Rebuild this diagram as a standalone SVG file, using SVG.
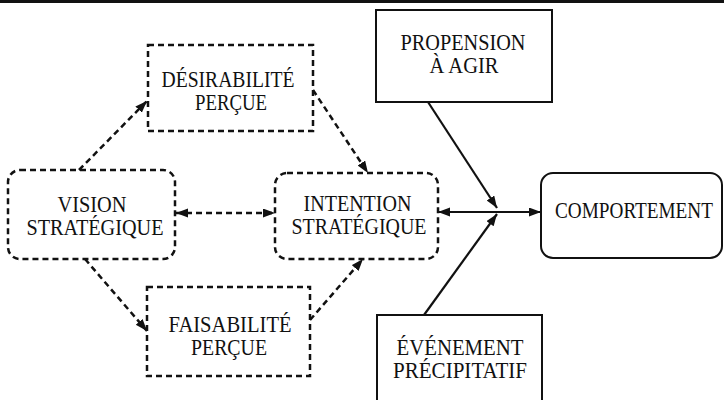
<svg xmlns="http://www.w3.org/2000/svg" width="724" height="400" viewBox="0 0 724 400">
<defs>
<style>
.dash{fill:none;stroke:#111;stroke-width:2.5;stroke-dasharray:6 4}
.solid{fill:none;stroke:#111;stroke-width:2}
.t{font-family:"Liberation Serif","Times New Roman",serif;font-size:23px;fill:#111;text-anchor:middle}
.cd{fill:none;stroke:#111;stroke-width:2.5;stroke-dasharray:6 4}
.cs{fill:none;stroke:#111;stroke-width:2.2}
</style>
<marker id="ah" markerUnits="userSpaceOnUse" markerWidth="14" markerHeight="10" refX="12" refY="4.5" orient="auto-start-reverse">
<path d="M0,0 L12,4.5 L0,9 z" fill="#111"/>
</marker>
</defs>
<rect width="724" height="400" fill="#fff"/>
<rect x="0" y="0" width="724" height="3" fill="#111"/>
<g id="connectors">
<line class="cd" x1="79" y1="170" x2="147" y2="101" marker-end="url(#ah)"/>
<line class="cd" x1="313" y1="90" x2="368" y2="173" marker-end="url(#ah)"/>
<line class="cd" x1="176" y1="213" x2="275" y2="213" marker-start="url(#ah)" marker-end="url(#ah)"/>
<line class="cd" x1="85" y1="259" x2="147" y2="331" marker-end="url(#ah)"/>
<line class="cd" x1="310" y1="320" x2="363" y2="259" marker-end="url(#ah)"/>
<line class="cs" x1="428" y1="102" x2="497" y2="208" marker-end="url(#ah)"/>
<line class="cs" x1="424" y1="315" x2="497" y2="214" marker-end="url(#ah)"/>
<line class="cs" x1="438" y1="212" x2="541" y2="212" marker-start="url(#ah)" marker-end="url(#ah)"/>
</g>
<g id="vision">
<rect class="dash" x="8" y="170" width="167" height="89" rx="12"/>
<text class="t" x="92" y="212" textLength="69" lengthAdjust="spacingAndGlyphs">VISION</text>
<text class="t" x="95" y="235" textLength="137" lengthAdjust="spacingAndGlyphs">STRATÉGIQUE</text>
</g>
<g id="desirabilite">
<rect class="dash" x="148" y="45" width="165" height="86"/>
<text class="t" x="228" y="87" textLength="133" lengthAdjust="spacingAndGlyphs">DÉSIRABILITÉ</text>
<text class="t" x="231" y="110" textLength="72" lengthAdjust="spacingAndGlyphs">PERÇUE</text>
</g>
<g id="faisabilite">
<rect class="dash" x="147" y="287" width="163" height="89"/>
<text class="t" x="230" y="332" textLength="123" lengthAdjust="spacingAndGlyphs">FAISABILITÉ</text>
<text class="t" x="229" y="355" textLength="76" lengthAdjust="spacingAndGlyphs">PERÇUE</text>
</g>
<g id="intention">
<rect class="dash" x="275" y="173" width="163" height="86" rx="12"/>
<text class="t" x="357.5" y="211" textLength="108" lengthAdjust="spacingAndGlyphs">INTENTION</text>
<text class="t" x="359" y="234" textLength="135" lengthAdjust="spacingAndGlyphs">STRATÉGIQUE</text>
</g>
<g id="propension">
<rect class="solid" x="376" y="10" width="176" height="92"/>
<text class="t" x="463" y="50" textLength="125" lengthAdjust="spacingAndGlyphs">PROPENSION</text>
<text class="t" x="464" y="73" textLength="69" lengthAdjust="spacingAndGlyphs">À AGIR</text>
</g>
<g id="evenement">
<rect class="solid" x="377" y="315" width="165" height="100"/>
<text class="t" x="460" y="355" textLength="127" lengthAdjust="spacingAndGlyphs">ÉVÉNEMENT</text>
<text class="t" x="460" y="378" textLength="134" lengthAdjust="spacingAndGlyphs">PRÉCIPITATIF</text>
</g>
<g id="comportement">
<rect class="solid" x="541" y="173" width="181" height="85" rx="12"/>
<text class="t" transform="translate(634 218) scale(0.836 1)" x="0" y="0">COMPORTEMENT</text>
</g>
</svg>
